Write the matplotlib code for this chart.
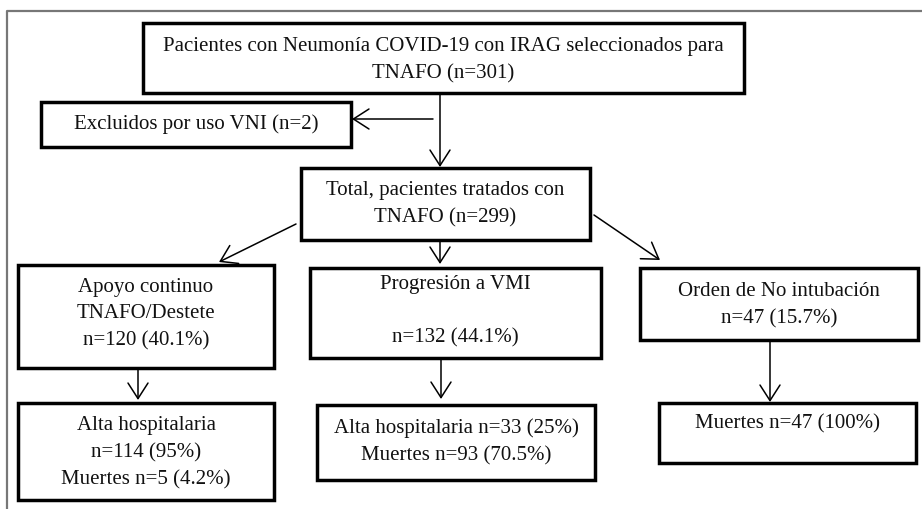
import matplotlib
matplotlib.use("Agg")
import matplotlib.pyplot as plt
from matplotlib.patches import Rectangle, FancyArrowPatch

plt.rcParams['font.family'] = ['Liberation Serif', 'DejaVu Serif']

# box texts (flowchart content)
labels = [
    "Pacientes con Neumonía COVID-19 con IRAG seleccionados para\nTNAFO (n=301)",
    "Excluidos por uso VNI (n=2)",
    "Total, pacientes tratados con\nTNAFO (n=299)",
    "Apoyo continuo\nTNAFO/Destete\nn=120 (40.1%)",
    "Progresión a VMI\n\nn=132 (44.1%)",
    "Orden de No intubación\nn=47 (15.7%)",
    "Alta hospitalaria\nn=114 (95%)\nMuertes n=5 (4.2%)",
    "Alta hospitalaria n=33 (25%)\nMuertes n=93 (70.5%)",
    "Muertes n=47 (100%)",
]

# box layout in pixels: x0, y0, x1, y1, text y
boxes = [
    (143, 23, 744, 93, 60),
    (41, 102, 351, 147, 124),
    (301, 168, 590, 240, 204),
    (18, 265, 274, 368, 314),
    (310, 268, 601, 358, 311),
    (640, 268, 918, 340, 305),
    (18, 403, 274, 500, 453),
    (317, 405, 595, 480, 442),
    (659, 403, 916, 463, 424),
]

# arrows: start, end (pixels)
arrows = [
    ((440, 93), (440, 167)),
    ((433, 119), (352, 119)),
    ((296, 224), (219, 262)),
    ((440, 240), (440, 264)),
    ((594, 215), (660, 260)),
    ((138, 368), (138, 400)),
    ((441, 358), (441, 399)),
    ((770, 340), (770, 402)),
]

fig = plt.figure(figsize=(9.22, 5.09), dpi=100)
ax = fig.add_axes([0, 0, 1, 1])
ax.set_xlim(0, 922)
ax.set_ylim(509, 0)
ax.axis('off')

# outer grey frame
ax.plot([6.5, 6.5, 922], [509, 10.5, 10.5], color='#777777', lw=1.6,
        solid_capstyle='butt')

for (x0, y0, x1, y1, ty), txt in zip(boxes, labels):
    ax.add_patch(Rectangle((x0, y0), x1 - x0, y1 - y0, fill=False,
                           edgecolor='black', lw=2.5, joinstyle='miter'))
    ax.text((x0 + x1) / 2, ty, txt, ha='center', va='center',
            fontsize=15, linespacing=1.55, color='#111111')

for (p0, p1) in arrows:
    ax.add_patch(FancyArrowPatch(p0, p1, arrowstyle='->,head_length=7,head_width=4.5',
                                 color='black', lw=1.1, shrinkA=0, shrinkB=0,
                                 mutation_scale=1.6))

fig.savefig('out.png', dpi=100)
